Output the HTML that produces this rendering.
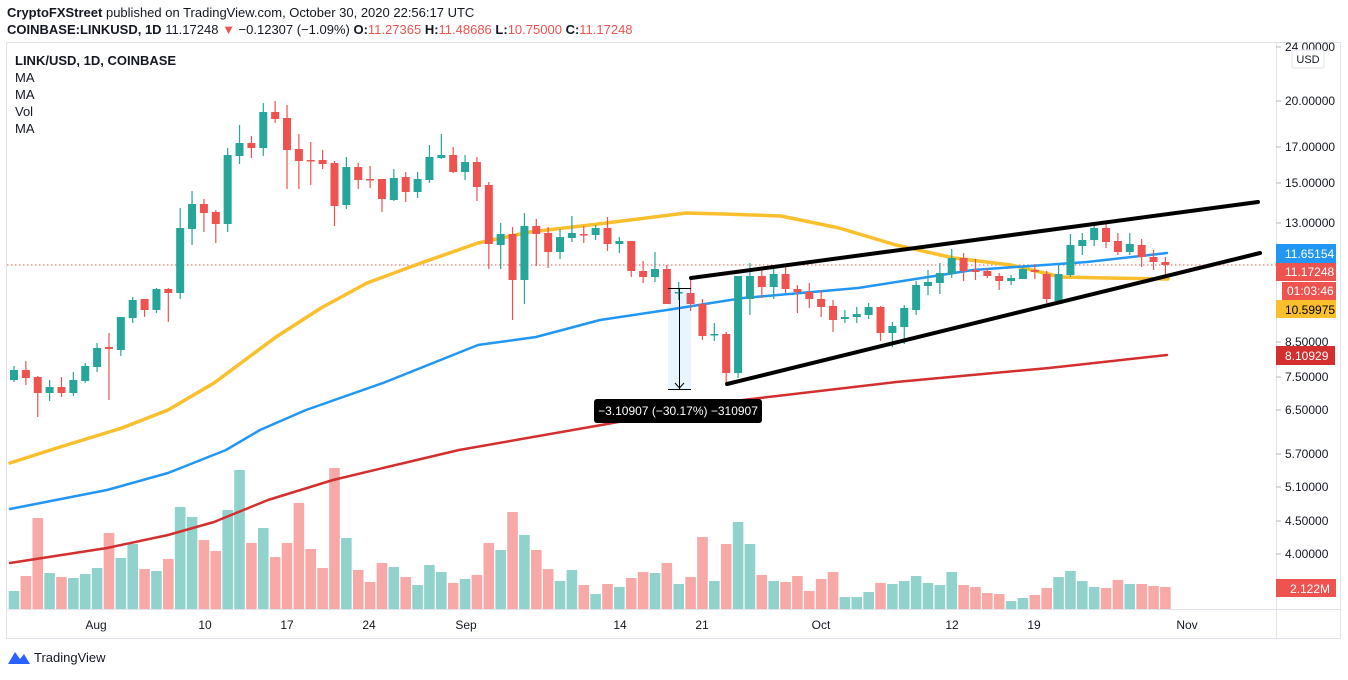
<!DOCTYPE html>
<html><head><meta charset="utf-8"><style>
html,body{margin:0;padding:0;background:#fff;}
body{width:1348px;height:675px;overflow:hidden;font-family:"Liberation Sans",sans-serif;}
</style></head><body>
<svg id="s" width="1348" height="675" xmlns="http://www.w3.org/2000/svg" font-family="Liberation Sans, sans-serif">
<rect x="0" y="0" width="1348" height="675" fill="#fff"/>
<text x="7" y="17" font-size="13" fill="#131722"><tspan font-weight="bold">CryptoFXStreet</tspan> published on TradingView.com, October 30, 2020 22:56:17 UTC</text>
<text x="7" y="34" font-size="13" fill="#131722"><tspan font-weight="bold">COINBASE:LINKUSD, 1D</tspan> 11.17248 <tspan fill="#ef5350">▼</tspan> −0.12307 (−1.09%) <tspan font-weight="bold">O:</tspan><tspan fill="#ef5350">11.27365</tspan> <tspan font-weight="bold">H:</tspan><tspan fill="#ef5350">11.48686</tspan> <tspan font-weight="bold">L:</tspan><tspan fill="#ef5350">10.75000</tspan> <tspan font-weight="bold">C:</tspan><tspan fill="#ef5350">11.17248</tspan></text>
<rect x="6.5" y="42.5" width="1334" height="596" fill="none" stroke="#e0e3eb"/>
<line x1="1276.5" y1="42" x2="1276.5" y2="638" stroke="#e0e3eb"/>
<line x1="7" y1="609.5" x2="1341" y2="609.5" stroke="#e0e3eb"/>
<line x1="7" y1="265" x2="1276" y2="265" stroke="#ef5350" stroke-dasharray="1.5,2.5"/>
<g id="vol"></g>
<g id="ma" fill="none" stroke-linejoin="round" stroke-linecap="round">
<polyline stroke="#f9bf2d" stroke-width="3.5" points="10,463 60,447 122,428 168,410 214,383 276,337 321,308 367,283 421,263 478,243 530,232 590,225 686,213 724,214 781,216 839,228 896,245 954,258 1011,265 1061,277 1107,278 1168,279"/>
<polyline stroke="#2196f3" stroke-width="2.5" points="10,509 107,490 168,473 226,450 260,430 306,410 383,383 478,345 536,337 600,320 667,310 743,298 858,288 973,270 1087,262 1167,253"/>
<polyline stroke="#d32f2f" stroke-width="2.5" points="10,563 107,548 168,535 214,522 268,500 333,480 383,468 459,450 590,427 743,400 896,382 1049,368 1167,355"/>
</g>
<g id="c"></g>
<rect x="668" y="288" width="23" height="101" fill="#2196f3" fill-opacity="0.1"/>
<line x1="668" y1="288.5" x2="691" y2="288.5" stroke="#000"/>
<line x1="668" y1="389.5" x2="691" y2="389.5" stroke="#000"/>
<line x1="679.5" y1="289" x2="679.5" y2="389" stroke="#000"/>
<polyline points="675,383 679.5,388 684,383" fill="none" stroke="#000"/>
<line x1="691" y1="278" x2="1258" y2="202" stroke="#000" stroke-width="4" stroke-linecap="round"/>
<line x1="727" y1="384" x2="1260" y2="253" stroke="#000" stroke-width="4" stroke-linecap="round"/>
<rect x="594" y="399" width="168" height="24" rx="3" fill="#000"/>
<text x="678" y="415" font-size="12" fill="#fff" text-anchor="middle">−3.10907 (−30.17%) −310907</text>
<g font-size="13" fill="#131722">
<text x="15" y="65" font-weight="bold">LINK/USD, 1D, COINBASE</text>
<text x="15" y="82">MA</text><text x="15" y="99">MA</text><text x="15" y="116">Vol</text><text x="15" y="133">MA</text>
</g>
<g font-size="12" fill="#131722" id="ax"></g>
<rect x="1292" y="50" width="32" height="18" rx="2" fill="#fff" stroke="#e0e3eb"/>
<text x="1308" y="63" font-size="11" fill="#131722" text-anchor="middle">USD</text>
<g font-size="12" fill="#fff">
<rect x="1276" y="244" width="60" height="19" fill="#2196f3"/><text x="1285" y="258">11.65154</text>
<rect x="1276" y="263" width="60" height="18" fill="#ef5350"/><text x="1285" y="276">11.17248</text>
<rect x="1282" y="282" width="54" height="18" fill="#ef5350"/><text x="1287" y="295">01:03:46</text>
<rect x="1276" y="300" width="60" height="18" fill="#f9bf2d"/><text x="1285" y="314" fill="#000">10.59975</text>
<rect x="1276" y="346" width="59" height="19" fill="#d32f2f"/><text x="1285" y="360">8.10929</text>
<rect x="1276" y="579" width="60" height="18" fill="#ef5350"/><text x="1290" y="593">2.122M</text>
</g>
<g font-size="12" fill="#131722" text-anchor="middle">
<text x="96" y="629">Aug</text><text x="205" y="629">10</text><text x="287" y="629">17</text><text x="369" y="629">24</text><text x="466" y="629">Sep</text><text x="620" y="629">14</text><text x="702" y="629">21</text><text x="821" y="629">Oct</text><text x="952" y="629">12</text><text x="1034" y="629">19</text><text x="1187" y="629">Nov</text>
</g>
<path d="M8,664 L15,652 L20,659 L24,654 L30,664 Z" fill="#2962ff"/>
<text x="34" y="662" font-size="13" fill="#131722">TradingView</text>
</svg>
<script>
var C=[[370,380,366,382,1],[370,378,361,385,0],[377,393,376,417,0],[387,393,380,401,1],[387,393,377,397,0],[380,393,372,396,1],[366,381,363,383,1],[348,367,343,372,1],[347,349,333,400,0],[317,350,317,356,1],[300,318,297,323,1],[299,310,299,317,0],[289,310,288,313,1],[289,293,288,322,0],[228,293,208,299,1],[204,229,191,245,1],[204,213,199,232,0],[212,224,210,243,0],[155,224,148,232,1],[143,156,125,164,1],[143,148,136,158,0],[112,148,103,156,1],[112,119,101,123,0],[118,150,105,189,0],[149,161,134,189,0],[160,161,142,185,0],[160,164,150,169,0],[163,206,161,226,0],[167,205,157,209,1],[167,180,163,189,0],[179,180,166,188,0],[179,199,179,212,0],[178,200,169,201,1],[177,192,172,202,0],[179,192,172,198,1],[157,180,145,183,1],[155,158,134,159,1],[155,172,147,173,0],[162,172,155,180,1],[162,187,157,201,0],[185,244,182,269,0],[234,245,223,269,1],[234,280,227,320,0],[226,280,213,304,1],[226,234,219,266,0],[233,252,227,268,0],[237,252,229,259,1],[233,238,216,242,1],[234,235,226,243,0],
[228,235,225,240,1],[228,244,217,251,0],[241,244,237,253,1],[241,271,241,277,0],[271,277,261,283,0],[269,277,252,282,1],[269,304,265,304,0],[292,293,282,300,1],[293,304,277,311,0],[304,336,299,340,0],[334,335,323,341,1],[334,373,332,385,0],[276,373,284,378,1],[276,299,263,315,1],[276,287,267,298,0],[274,287,265,299,1],[274,289,267,293,0],[289,292,285,313,0],[292,299,283,308,0],[299,307,290,317,0],[306,320,300,332,0],[317,319,310,323,1],[314,317,307,323,1],[307,315,303,319,1],[307,333,306,341,0],[326,333,322,347,1],[308,327,305,344,1],[285,310,281,315,1],[282,286,270,295,1],[273,283,263,294,1],[258,274,249,278,1],[258,271,253,281,0],[270,272,259,280,0],[271,276,268,278,0],[276,281,273,290,0],[278,281,275,285,1],[269,279,267,279,1],[270,272,264,279,0],[274,299,271,303,0],[274,301,265,301,1],[245,275,234,277,1],[240,246,233,255,1],[228,240,223,246,1],[228,242,224,248,0],[241,252,233,255,0],[244,252,233,255,1],[245,257,239,267,0],[257,262,250,270,0],[262,265,257,278,0]];
var V=[423,378,204,369,381,384,372,354,249,324,282,357,363,327,171,201,270,303,180,60,279,234,321,279,159,297,354,54,264,360,396,339,351,381,405,345,366,399,387,375,279,300,186,255,300,357,393,360,405,432,402,411,384,366,369,339,402,381,261,393,282,216,282,375,393,396,378,423,387,366,441,441,426,399,402,393,378,399,405,366,405,411,429,432,453,444,435,414,381,363,393,411,414,390,402,402,408,411];
var ns="http://www.w3.org/2000/svg";
function el(p,t,a){var e=document.createElementNS(ns,t);for(var k in a)e.setAttribute(k,a[k]);p.appendChild(e);return e;}
var cg=document.getElementById('c'),vg=document.getElementById('vol');
for(var i=0;i<C.length;i++){var x=14+i*11.87,c=C[i],col=c[4]?'#26a69a':'#ef5350';
el(cg,'line',{x1:x,x2:x,y1:c[2],y2:c[3],stroke:col,'stroke-width':1.2});
el(cg,'rect',{x:x-4,y:c[0],width:8,height:Math.max(1.5,c[1]-c[0]),fill:col});
var h=(477-V[i])/3;el(vg,'rect',{x:x-5.3,y:609-h,width:10.6,height:h,fill:c[4]?'#92d2cc':'#f7a9a7'});}
var ax=document.getElementById('ax');
[[47,'24.00000'],[101,'20.00000'],[147,'17.00000'],[183,'15.00000'],[223,'13.00000'],[342,'8.50000'],[377,'7.50000'],[410,'6.50000'],[454,'5.70000'],[487,'5.10000'],[521,'4.50000'],[554,'4.00000']].forEach(function(t){
el(ax,'line',{x1:1276,x2:1281,y1:t[0],y2:t[0],stroke:'#b2b5be'});var e=el(ax,'text',{x:1285,y:t[0]+4});e.textContent=t[1];});
</script>
</body></html>
